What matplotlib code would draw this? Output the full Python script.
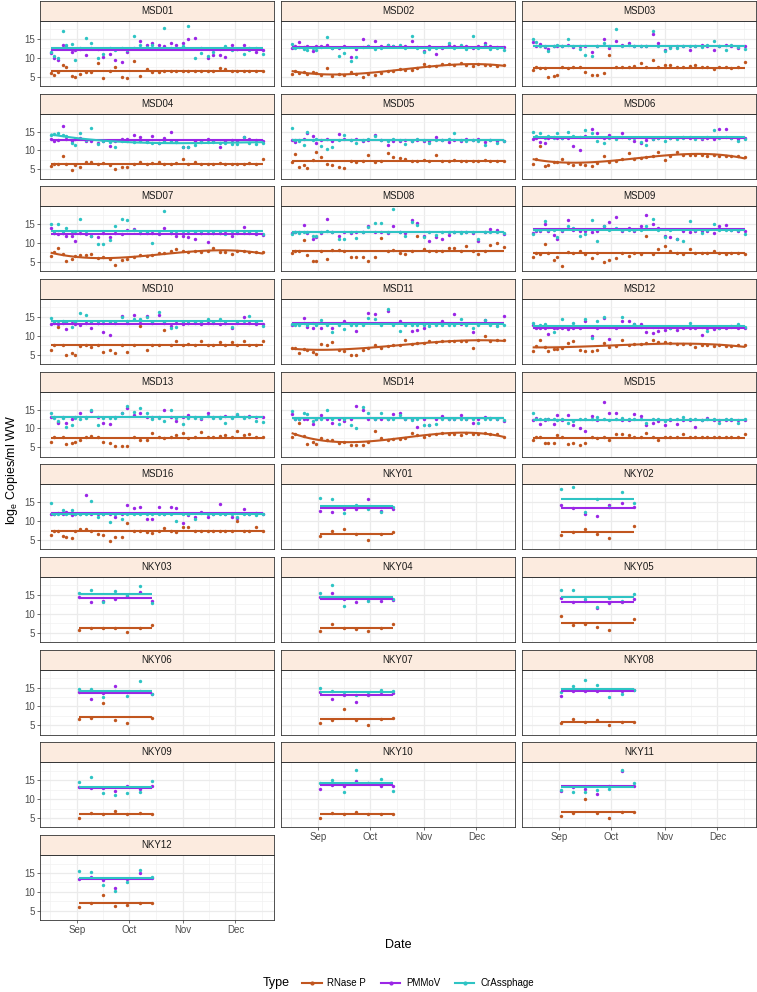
import numpy as np
import pandas as pd
import matplotlib
matplotlib.use("Agg")
import matplotlib.pyplot as plt
import matplotlib.dates as mdates
from matplotlib.lines import Line2D

plt.rcParams["font.family"] = ["Liberation Sans", "DejaVu Sans"]

# ========== 1. DATA (log_e copies / ml WW) ==========
START = pd.Timestamp("2020-09-01")
msd_days = [-15, -13, -11, -8, -6, -3, -1, 2, 5, 8, 12, 15, 19, 22, 26, 29, 33, 36, 40,
            43, 47, 50, 54, 57, 61, 64, 68, 71, 75, 78, 82, 85, 89, 92, 96, 99, 103, 107]
nky_days = [1, 8, 15, 22, 29, 36, 43]
na = np.nan

types = ["RNase P", "PMMoV", "CrAssphage"]
colors = ["#C1561F", "#9B26E6", "#2EC4C4"]

sites = ["MSD%02d" % i for i in range(1, 17)] + ["NKY%02d" % i for i in range(1, 13)]

rnase_p = {
    "MSD01": [6.0, 5.5, 6.2, 8.0, 7.5, 5.2, 4.9, 5.8, 6.3, 6.3, 8.5, 4.5, 6.5, 7.5, 4.8, 4.5, 9.2, 5.2, 7.0,
              6.3, 6.3, 6.5, 6.5, 6.6, 6.4, 6.5, 6.6, 6.5, 6.4, 6.6, 7.2, 7.0, 6.5, 6.4, 6.6, 6.5, 6.5, 6.6],
    "MSD02": [5.6, 6.4, 6.0, 6.2, 5.8, 6.2, 6.0, 5.5, 7.3, 5.2, 5.6, 5.5, 6.2, 5.8, 4.8, 5.7, 5.3, 6.0, 6.4,
              6.6, 7.0, 6.8, 6.7, 7.4, 8.3, 7.9, 7.8, 8.3, 8.3, 8.1, 8.7, 8.2, 7.8, 8.4, 8.2, 8.0, 7.9, 8.0],
    "MSD03": [6.8, 7.5, 7.4, 7.3, 4.8, 5.2, 5.5, 7.6, 7.3, 7.5, 7.6, 6.2, 5.5, 5.5, 5.9, 10.8, 7.5, 7.5, 7.6,
              7.7, 8.7, 7.5, 9.3, 7.5, 8.2, 8.0, 7.5, 7.6, 7.7, 8.2, 7.5, 7.6, 7.0, 7.5, 7.6, 7.4, 7.5, 9.0],
    "MSD04": [5.8, 6.5, 6.4, 8.5, 6.5, 4.8, 6.0, 5.5, 7.0, 7.0, 6.4, 6.6, 6.2, 5.0, 5.5, 5.5, 6.5, 7.0, 6.5,
              6.6, 7.0, 6.5, 6.4, 6.6, 7.8, 6.5, 6.8, 6.5, 6.5, 6.4, 6.6, 6.5, 6.5, 6.4, 6.5, 6.6, 6.5, 7.8],
    "MSD05": [6.8, 9.0, 5.5, 6.0, 5.3, 7.5, 9.7, 8.3, 6.5, 6.0, 5.5, 5.3, 7.3, 7.0, 7.2, 8.7, 7.0, 7.3, 9.3,
              8.2, 8.0, 7.8, 7.2, 7.3, 7.4, 7.2, 8.8, 7.3, 7.2, 7.4, 7.3, 7.1, 7.3, 7.2, 7.4, 7.3, 7.2, 7.3],
    "MSD06": [6.3, 7.7, 11.3, 5.8, 6.0, 6.8, 7.0, 7.8, 6.6, 6.0, 6.3, 6.0, 5.8, 6.7, 8.5, 6.8, 7.2, 7.6, 9.3,
              7.8, 8.0, 8.3, 8.6, 9.7, 7.5, 8.6, 9.7, 8.8, 8.7, 8.9, 8.8, 8.6, 8.7, 8.6, 8.5, 8.4, 8.6, 8.3],
    "MSD07": [6.5, 7.6, 8.7, 7.0, 5.2, 5.7, 6.5, 6.8, 6.8, 7.0, 6.0, 6.3, 5.8, 4.3, 5.5, 5.8, 6.3, 6.8, 6.6,
              6.9, 7.4, 7.3, 7.8, 8.3, 8.0, 7.6, 7.8, 7.5, 7.8, 8.8, 7.7, 7.6, 7.0, 8.0, 7.8, 7.6, 7.7, 7.7],
    "MSD08": [7.3, 8.0, 7.9, 10.8, 6.8, 5.3, 5.3, 8.0, 5.8, 8.1, 8.2, 8.0, 6.3, 6.3, 6.2, 5.3, 6.3, 11.3, 8.0,
              8.1, 7.3, 7.0, 8.0, 12.0, 8.5, 8.0, 7.8, 8.0, 8.8, 8.8, 8.0, 9.2, 8.0, 7.0, 8.0, 9.5, 10.0, 8.9],
    "MSD09": [6.2, 7.3, 7.2, 9.8, 7.3, 5.5, 6.3, 4.0, 7.5, 7.3, 8.0, 7.2, 6.0, 7.3, 5.0, 5.5, 6.0, 7.3, 6.5,
              7.3, 7.0, 11.8, 7.2, 8.3, 9.3, 8.0, 7.3, 7.2, 8.3, 7.3, 7.4, 7.3, 7.8, 7.3, 7.2, 7.3, 7.3, 7.2],
    "MSD10": [6.3, 7.6, 12.3, 7.6, 5.0, 5.5, 4.8, 7.2, 7.6, 7.0, 7.6, 5.8, 6.3, 5.3, 7.6, 5.8, 7.6, 12.5, 6.3,
              7.5, 7.6, 11.5, 7.6, 8.5, 7.6, 7.8, 7.6, 8.7, 7.6, 7.6, 8.3, 7.6, 8.3, 7.6, 8.5, 7.6, 7.6, 8.7],
    "MSD11": [6.8, 6.7, 5.5, 6.5, 6.2, 5.8, 5.2, 7.8, 7.5, 8.3, 6.3, 6.0, 4.8, 4.8, 6.3, 6.8, 7.5, 6.8, 7.3,
              7.5, 7.6, 8.8, 7.8, 8.0, 8.2, 8.7, 8.3, 8.5, 8.6, 8.7, 8.5, 8.6, 6.7, 8.8, 10.0, 8.7, 8.8, 8.8],
    "MSD12": [6.0, 7.2, 8.8, 7.0, 6.0, 6.5, 6.5, 6.8, 8.2, 8.7, 6.2, 6.0, 6.0, 6.2, 8.2, 7.0, 7.2, 8.8, 7.5,
              7.8, 7.8, 8.0, 8.8, 8.3, 8.3, 8.0, 7.8, 7.8, 7.7, 7.0, 7.6, 7.5, 7.4, 7.5, 7.3, 7.4, 7.5, 7.5],
    "MSD13": [6.3, 7.7, 11.8, 7.7, 5.8, 6.2, 6.5, 6.8, 7.7, 8.0, 7.7, 6.5, 6.0, 5.3, 5.3, 5.3, 7.7, 7.0, 6.8,
              8.7, 7.7, 7.5, 7.7, 8.3, 8.8, 7.5, 7.7, 9.0, 7.7, 7.8, 8.0, 8.3, 7.7, 9.2, 8.3, 8.5, 7.7, 7.8],
    "MSD14": [7.7, 8.6, 11.5, 8.0, 5.8, 6.5, 5.8, 7.5, 7.0, 6.8, 6.2, 6.4, 5.5, 5.5, 5.5, 6.5, 9.3, 7.5, 6.8,
              7.2, 7.3, 7.5, 8.7, 8.2, 7.7, 8.3, 8.5, 8.8, 8.6, 8.5, 8.3, 8.7, 8.5, 8.6, 8.7, 8.6, 8.5, 7.8],
    "MSD15": [6.8, 7.6, 7.6, 6.0, 6.0, 6.0, 8.3, 7.6, 5.8, 6.0, 5.5, 6.0, 7.6, 7.5, 7.6, 7.0, 8.5, 8.5, 8.2,
              7.8, 7.6, 8.8, 7.6, 6.8, 7.6, 7.6, 7.6, 8.5, 7.6, 7.6, 7.6, 7.6, 7.6, 7.6, 7.6, 7.6, 7.6, 8.5],
    "MSD16": [6.2, 7.4, 7.4, 6.0, 5.8, 5.6, 7.4, 7.8, 7.8, 7.4, 6.5, 6.3, 4.8, 5.8, 5.8, 9.5, 7.4, 7.5, 7.2,
              6.8, 7.4, 8.2, 7.4, 7.0, 8.5, 8.5, 7.4, 7.4, 7.4, 7.4, 7.4, 7.5, 7.4, 10.0, 7.4, 7.5, 8.3, 7.4],
    "NKY01": [6.0, 7.3, 8.0, 6.5, 5.0, 6.6, 7.0],
    "NKY02": [6.3, 7.0, 8.0, 6.5, 5.6, na, 8.6],
    "NKY03": [5.8, 6.3, 6.2, 6.3, 5.2, 6.2, 7.1],
    "NKY04": [5.5, 7.2, 6.3, 5.9, 5.3, 6.2, 7.2],
    "NKY05": [9.5, 6.9, 7.4, 6.6, 5.6, na, 8.6],
    "NKY06": [6.7, 6.9, 10.9, 6.5, 5.7, na, 6.8],
    "NKY07": [5.6, 6.5, 9.3, 6.5, 5.2, 6.6, 6.8],
    "NKY08": [5.6, 6.6, 5.9, 6.3, 5.2, 5.9, 5.9],
    "NKY09": [5.1, 6.4, 6.1, 6.8, 6.0, 6.2, 6.1],
    "NKY10": [5.1, 6.3, 6.0, 6.6, 6.0, 6.0, 6.0],
    "NKY11": [5.6, 6.4, 9.9, 6.4, 4.9, 6.6, 6.5],
    "NKY12": [5.9, 6.9, 9.2, 6.3, 6.4, 7.0, 6.9],
}

pmmov = {
    "MSD01": [11.3, 10.0, 9.3, 13.3, 12.8, 11.5, 12.0, 12.2, 10.8, 12.5, 12.3, 10.1, 11.0, 9.5, 9.0, 11.5, 12.5, 14.5, 13.3,
              14.0, 13.5, 13.0, 14.0, 13.5, 14.0, 15.0, 15.2, 12.6, 10.0, 10.8, 10.8, 10.3, 13.5, 12.2, 13.3, 12.5, 11.5, 12.0],
    "MSD02": [12.6, 13.0, 14.2, 12.8, 13.0, 11.7, 13.2, 13.0, 13.4, 12.6, 12.6, 13.0, 10.2, 12.4, 15.0, 13.2, 14.5, 13.0, 13.5,
              13.0, 13.2, 13.0, 14.5, 12.9, 11.7, 13.0, 11.0, 12.5, 13.5, 13.2, 13.0, 13.2, 12.5, 13.0, 14.0, 13.2, 12.8, 12.8],
    "MSD03": [14.3, 13.0, 13.6, 12.8, 12.2, 13.2, 13.0, 13.2, 13.5, 12.8, 13.0, 13.2, 11.5, 13.0, 15.0, 12.5, 14.5, 13.3, 14.0,
              13.2, 13.0, 13.2, 16.2, 14.0, 12.0, 12.8, 13.0, 13.2, 12.0, 13.0, 13.5, 13.2, 12.0, 13.1, 13.5, 13.0, 12.6, 13.0],
    "MSD04": [13.0, 12.5, 12.8, 16.5, 13.0, 12.6, 13.0, 13.3, 12.5, 12.5, 12.0, 12.4, 11.3, 12.5, 13.0, 13.0, 14.2, 13.5, 12.5,
              13.8, 12.0, 13.3, 14.8, 12.6, 11.0, 10.8, 12.5, 12.6, 13.0, 12.5, 11.0, 12.6, 12.8, 12.6, 13.5, 13.0, 12.8, 12.5],
    "MSD05": [12.8, 12.3, 12.8, 13.0, 14.5, 13.8, 12.0, 12.8, 13.0, 12.5, 14.3, 13.0, 12.8, 13.0, 12.6, 12.8, 14.0, 12.8, 11.5,
              12.5, 12.6, 12.8, 12.5, 12.8, 12.5, 12.6, 13.5, 12.8, 12.3, 12.8, 12.5, 12.9, 12.8, 13.0, 12.3, 12.8, 12.6, 12.5],
    "MSD06": [13.0, 13.2, 12.2, 12.0, 13.3, 13.5, 13.3, 13.2, 13.4, 11.2, 10.2, 13.8, 15.8, 14.5, 13.3, 14.0, 13.2, 14.5, 13.3,
              12.5, 12.0, 12.8, 13.0, 13.3, 13.5, 13.2, 13.3, 13.5, 13.2, 13.3, 13.0, 13.4, 13.0, 15.6, 15.6, 13.3, 13.0, 13.2],
    "MSD07": [14.0, 12.6, 12.5, 12.6, 12.0, 12.0, 10.5, 12.6, 12.4, 12.0, 11.5, 12.6, 11.5, 12.6, 12.5, 13.5, 13.8, 12.6, 12.7,
              12.6, 12.5, 14.0, 12.6, 12.0, 12.0, 11.5, 11.0, 12.6, 10.2, 12.6, 12.7, 12.6, 12.0, 12.6, 14.3, 12.6, 12.5, 12.2],
    "MSD08": [12.8, 12.9, 12.9, 14.8, 12.8, 11.0, 11.5, 12.8, 16.5, 12.9, 12.0, 12.9, 12.8, 13.0, 13.0, 14.5, 12.9, 12.9, 12.8,
              14.5, 12.9, 12.8, 16.0, 15.2, 11.8, 10.5, 11.5, 11.0, 12.2, 12.9, 12.9, 12.9, 12.8, 10.5, 12.9, 13.8, 13.5, 12.5],
    "MSD09": [12.8, 13.3, 13.2, 15.0, 13.3, 12.2, 11.2, 13.3, 16.2, 13.5, 13.3, 13.2, 13.0, 13.3, 14.5, 15.5, 17.0, 13.3, 14.0,
              13.3, 14.5, 17.5, 15.0, 14.0, 12.0, 11.5, 11.0, 13.3, 13.0, 13.3, 13.2, 13.3, 12.8, 14.5, 14.8, 13.5, 13.3, 13.2],
    "MSD10": [13.0, 13.3, 13.2, 13.3, 11.8, 13.3, 13.2, 12.8, 13.3, 12.0, 13.3, 11.0, 10.2, 13.3, 15.2, 13.3, 15.5, 13.3, 15.3,
              13.3, 15.5, 13.3, 12.5, 13.3, 13.2, 13.3, 13.3, 13.2, 13.3, 13.3, 13.2, 13.3, 12.0, 13.3, 15.0, 13.3, 13.2, 13.0],
    "MSD11": [12.8, 13.2, 13.2, 14.8, 12.2, 12.0, 13.2, 12.0, 13.2, 12.0, 13.2, 14.0, 13.2, 11.2, 13.2, 16.0, 15.8, 13.2, 16.5,
              13.2, 13.8, 13.2, 11.2, 11.5, 12.0, 13.2, 13.2, 13.8, 13.2, 15.8, 13.2, 13.2, 11.0, 13.2, 14.2, 13.2, 13.2, 15.3],
    "MSD12": [12.8, 12.0, 12.0, 12.0, 10.5, 12.0, 12.0, 12.0, 11.8, 12.0, 12.0, 14.0, 10.0, 12.0, 14.8, 9.2, 12.0, 13.8, 14.0,
              13.0, 13.0, 11.0, 10.7, 11.3, 11.5, 12.0, 11.6, 12.0, 12.0, 12.0, 10.3, 12.0, 11.9, 12.0, 12.0, 12.5, 12.0, 12.0],
    "MSD13": [13.0, 13.0, 11.5, 13.0, 11.5, 12.5, 13.0, 14.0, 13.0, 14.7, 13.0, 11.5, 11.2, 13.0, 14.0, 15.5, 13.5, 14.0, 13.0,
              13.0, 13.0, 14.8, 13.0, 12.0, 13.0, 13.5, 13.0, 12.5, 14.0, 13.0, 13.0, 13.3, 13.0, 13.5, 13.0, 13.2, 13.0, 13.0],
    "MSD14": [13.8, 12.6, 12.6, 12.6, 12.6, 11.3, 12.6, 13.5, 12.6, 11.5, 12.6, 12.0, 12.6, 16.0, 14.8, 12.6, 12.6, 12.5, 12.6,
              13.8, 14.0, 12.6, 12.6, 10.5, 12.6, 10.8, 12.6, 13.3, 12.5, 12.6, 13.5, 12.6, 11.5, 12.6, 13.0, 12.8, 12.6, 12.0],
    "MSD15": [12.2, 12.8, 11.3, 12.2, 12.5, 11.3, 13.5, 12.2, 13.5, 11.0, 10.0, 9.2, 13.3, 12.2, 17.0, 14.2, 14.0, 12.2, 12.2,
              13.8, 13.3, 11.0, 11.5, 12.0, 10.8, 12.2, 11.3, 12.2, 12.2, 10.5, 12.2, 12.8, 12.2, 12.2, 12.2, 12.2, 12.2, 12.2],
    "MSD16": [12.0, 12.0, 12.2, 12.0, 12.3, 11.5, 12.0, 12.0, 16.8, 12.0, 12.0, 12.0, 12.0, 11.0, 12.0, 14.2, 13.5, 13.8, 10.5,
              10.5, 13.8, 12.0, 13.8, 13.5, 9.5, 11.5, 11.0, 12.3, 11.0, 12.0, 14.5, 12.0, 11.0, 10.8, 13.3, 12.0, 12.2, 12.0],
    "NKY01": [12.8, 12.5, 13.2, 13.3, 15.8, 12.8, 13.2],
    "NKY02": [14.3, 13.5, 12.0, 11.3, 14.3, 14.8, 13.8],
    "NKY03": [14.5, 13.0, 13.4, 13.9, 14.6, 15.7, 13.3],
    "NKY04": [14.5, 15.4, 13.8, 13.1, 14.0, 13.3, 13.7],
    "NKY05": [14.2, 13.1, 13.4, 11.6, 12.8, 13.2, 13.9],
    "NKY06": [13.8, 11.9, 13.6, 15.5, 13.7, 14.0, 13.2],
    "NKY07": [13.8, 12.1, 13.0, 11.3, 13.0, 13.9, 13.6],
    "NKY08": [12.8, 14.2, 14.0, 14.0, 14.3, 14.2, 14.4],
    "NKY09": [13.1, 13.0, 12.9, 12.1, 13.5, 12.6, 13.5],
    "NKY10": [12.6, 13.8, 13.6, 14.8, 14.2, 13.6, 13.6],
    "NKY11": [12.1, 13.2, 12.7, 11.4, 13.5, 17.4, 13.5],
    "NKY12": [13.3, 13.8, 13.2, 10.9, 13.4, 15.0, 13.6],
}

crassphage = {
    "MSD01": [11.5, 10.5, 9.8, 17.0, 13.4, 13.6, 9.4, 12.5, 15.3, 14.0, 10.0, 11.0, 12.5, 12.0, 12.5, 12.0, 15.7, 13.5, 12.8,
              13.5, 12.5, 17.8, 12.5, 12.6, 13.0, 18.5, 10.0, 11.3, 10.5, 11.5, 12.2, 13.0, 12.0, 12.3, 11.0, 12.0, 12.5, 11.0],
    "MSD02": [13.6, 12.5, 12.8, 12.2, 12.0, 12.6, 12.0, 12.8, 15.4, 12.6, 10.5, 11.2, 9.2, 10.3, 12.8, 13.0, 12.2, 12.5, 13.5,
              13.0, 13.3, 12.5, 15.8, 12.6, 11.5, 12.2, 12.6, 12.8, 14.0, 12.6, 13.5, 12.4, 15.8, 12.6, 13.5, 12.4, 12.6, 12.0],
    "MSD03": [15.0, 14.3, 13.2, 13.2, 11.8, 13.0, 13.4, 13.2, 15.0, 13.1, 12.2, 10.8, 10.5, 13.2, 14.0, 13.0, 17.5, 13.2, 13.5,
              13.2, 13.0, 13.2, 17.0, 13.2, 11.8, 12.6, 12.5, 13.2, 13.1, 13.0, 12.8, 13.3, 14.5, 13.1, 12.0, 13.3, 12.8, 12.2],
    "MSD04": [14.0, 14.3, 14.5, 14.0, 13.8, 12.0, 11.5, 14.5, 12.8, 16.0, 11.8, 12.4, 12.2, 10.8, 12.5, 12.5, 12.2, 12.4, 12.2,
              12.0, 12.0, 12.5, 12.5, 12.2, 10.8, 11.0, 11.5, 12.3, 12.3, 12.3, 12.0, 12.0, 11.8, 11.8, 13.5, 12.0, 11.8, 12.0],
    "MSD05": [16.0, 12.8, 12.5, 11.5, 14.8, 12.8, 13.0, 11.3, 10.5, 11.0, 12.8, 14.0, 12.8, 12.0, 12.8, 13.0, 13.8, 12.8, 12.5,
              13.0, 12.8, 11.8, 12.5, 13.0, 12.8, 12.0, 12.7, 12.8, 12.9, 14.7, 12.8, 12.5, 12.8, 12.6, 11.5, 12.8, 12.0, 12.5],
    "MSD06": [15.0, 13.8, 14.5, 13.4, 13.8, 13.4, 14.5, 13.2, 15.0, 13.8, 13.5, 15.5, 14.5, 12.5, 12.0, 13.4, 13.0, 13.5, 13.2,
              13.4, 12.2, 11.5, 13.0, 13.2, 12.5, 13.4, 13.0, 13.2, 13.5, 13.0, 13.4, 13.6, 15.5, 13.2, 13.5, 13.4, 12.5, 13.0],
    "MSD07": [15.0, 12.8, 15.0, 12.8, 14.0, 12.8, 12.6, 16.5, 12.8, 12.0, 9.8, 9.8, 10.8, 14.5, 16.5, 16.0, 13.5, 12.8, 12.9,
              10.0, 12.8, 18.5, 12.8, 12.8, 12.6, 12.8, 12.9, 12.8, 12.7, 12.8, 12.8, 12.5, 12.8, 12.9, 12.7, 13.0, 12.8, 12.5],
    "MSD08": [12.5, 12.9, 12.7, 12.9, 13.0, 12.0, 11.8, 12.9, 13.2, 12.9, 11.0, 11.2, 12.9, 11.3, 12.9, 14.2, 15.3, 15.3, 12.9,
              19.0, 12.9, 11.8, 15.5, 14.8, 11.6, 12.9, 12.2, 12.9, 13.0, 12.9, 12.8, 12.9, 12.9, 11.2, 12.9, 12.9, 13.0, 12.6],
    "MSD09": [12.5, 13.5, 13.6, 15.8, 13.4, 13.5, 11.5, 13.5, 14.5, 14.0, 12.0, 12.5, 16.0, 10.5, 14.5, 13.5, 14.0, 13.5, 13.5,
              13.4, 13.5, 14.5, 16.5, 13.5, 11.5, 13.6, 11.0, 10.5, 15.8, 13.5, 12.8, 13.5, 15.0, 13.4, 13.5, 13.6, 13.5, 12.5],
    "MSD10": [14.8, 13.6, 13.5, 14.0, 13.6, 12.3, 13.6, 16.0, 15.5, 13.6, 13.3, 13.5, 13.6, 13.6, 15.0, 14.0, 14.5, 14.5, 15.0,
              13.6, 16.3, 13.6, 12.0, 12.2, 13.6, 13.5, 13.6, 13.6, 14.5, 13.6, 14.5, 13.5, 12.3, 13.6, 14.0, 15.2, 13.6, 12.5],
    "MSD11": [13.0, 12.9, 12.9, 13.3, 12.9, 13.5, 12.8, 14.3, 12.9, 11.0, 12.9, 11.8, 12.9, 12.9, 12.9, 14.8, 14.5, 12.9, 17.0,
              12.9, 11.2, 12.9, 12.9, 12.9, 12.9, 12.5, 12.9, 12.9, 12.9, 12.9, 14.5, 12.9, 12.0, 12.9, 14.3, 12.9, 12.5, 12.9],
    "MSD12": [13.5, 12.3, 12.8, 13.2, 12.3, 11.0, 12.3, 14.5, 12.3, 13.5, 12.3, 14.5, 9.5, 13.8, 15.0, 12.3, 12.3, 15.0, 12.3,
              13.0, 12.3, 12.2, 12.3, 12.3, 12.3, 12.0, 12.3, 12.4, 13.3, 12.3, 12.3, 11.3, 12.3, 12.0, 12.3, 12.2, 13.0, 12.3],
    "MSD13": [14.0, 12.8, 12.0, 12.8, 10.5, 11.0, 12.8, 12.5, 12.8, 15.0, 11.0, 12.8, 12.8, 12.8, 14.2, 16.0, 14.3, 15.5, 14.0,
              12.5, 12.8, 12.0, 14.8, 12.8, 11.3, 12.8, 12.8, 12.8, 13.3, 12.8, 12.8, 11.5, 12.8, 13.8, 12.8, 13.0, 12.0, 11.8],
    "MSD14": [14.5, 12.6, 12.6, 14.0, 13.7, 12.0, 12.6, 12.6, 15.0, 12.6, 11.3, 12.5, 11.0, 10.0, 15.8, 14.2, 12.6, 14.2, 12.6,
              12.6, 13.5, 12.6, 12.2, 12.6, 11.0, 11.0, 11.3, 12.6, 12.5, 12.6, 12.6, 12.5, 12.6, 11.5, 12.6, 12.6, 12.6, 12.3],
    "MSD15": [14.0, 12.4, 12.4, 12.4, 12.5, 12.4, 12.3, 12.4, 11.5, 12.0, 12.4, 12.4, 12.4, 13.0, 12.4, 12.3, 12.4, 12.8, 12.4,
              12.4, 12.4, 11.5, 12.4, 12.4, 12.0, 12.4, 12.4, 13.0, 12.4, 12.4, 12.2, 12.4, 12.4, 11.5, 12.4, 12.4, 11.5, 12.4],
    "MSD16": [14.7, 12.0, 12.0, 13.0, 12.0, 13.0, 12.0, 12.0, 12.0, 15.2, 11.2, 12.0, 9.8, 12.0, 10.5, 12.0, 12.0, 12.0, 12.0,
              12.0, 12.0, 12.0, 12.0, 10.0, 12.0, 12.0, 10.5, 12.2, 12.0, 12.0, 12.0, 12.0, 12.0, 11.0, 12.0, 12.0, 11.5, 12.0],
    "NKY01": [16.0, 15.8, 12.2, 14.3, 13.3, 12.5, 13.7],
    "NKY02": [18.6, 19.0, 12.3, 15.8, 13.8, 17.6, 14.8],
    "NKY03": [15.4, 16.3, 13.2, 16.1, 15.0, 17.4, 12.9],
    "NKY04": [15.4, 17.7, 12.0, 14.3, 13.3, 14.3, 13.9],
    "NKY05": [16.3, 16.3, 13.9, 11.8, 14.2, 13.5, 15.3],
    "NKY06": [14.7, 14.7, 12.6, 14.2, 12.8, 16.8, 13.4],
    "NKY07": [14.8, 14.0, 13.2, 13.0, 13.4, 14.4, 14.0],
    "NKY08": [13.8, 15.5, 16.9, 15.8, 12.4, 13.4, 14.4],
    "NKY09": [14.6, 15.8, 11.6, 11.2, 11.6, 12.0, 14.8],
    "NKY10": [14.4, 15.0, 11.8, 17.8, 14.3, 15.4, 12.1],
    "NKY11": [12.3, 12.0, 11.8, 12.5, 12.6, 17.7, 14.2],
    "NKY12": [15.5, 15.3, 11.9, 10.2, 12.5, 15.8, 14.0],
}

series = [rnase_p, pmmov, crassphage]

# smooths that bend (the rest shrink to a flat line at the mean)
curved = {("MSD02", 0), ("MSD04", 2), ("MSD06", 0), ("MSD07", 0),
          ("MSD11", 0), ("MSD12", 0), ("MSD14", 0)}

# ========== 2. LAYOUT ==========
W, H = 757, 992
fig = plt.figure(figsize=(W / 100, H / 100), dpi=100)
col_x = [40, 281, 522]
panel_w = 234
pitch = 92.67
strip_h = 20
panel_h = 65

x_lo = START + pd.Timedelta(days=-15 - 6.1)
x_hi = START + pd.Timedelta(days=107 + 6.1)
months = pd.date_range("2020-08-01", "2021-01-01", freq="MS")
mids = [months[i] + (months[i + 1] - months[i]) / 2 for i in range(len(months) - 1)]

all_vals = np.concatenate([np.array(s[k], float) for s in series for k in sites])
lo, hi = np.nanmin(all_vals), np.nanmax(all_vals)
pad = 0.05 * (hi - lo)

grey20, grey30 = "#333333", "#4D4D4D"

for k, site in enumerate(sites):
    r, c = divmod(k, 3)
    top = 1 + r * pitch
    ax = fig.add_axes([col_x[c] / W, 1 - (top + strip_h + panel_h) / H, panel_w / W, panel_h / H])
    sax = fig.add_axes([col_x[c] / W, 1 - (top + strip_h) / H, panel_w / W, strip_h / H])

    days = np.array(msd_days if site.startswith("MSD") else nky_days, float)
    dates = START + pd.to_timedelta(days, unit="D")

    # points first, then the smooths (ggplot layer order)
    for j, s in enumerate(series):
        y = np.array(s[site], float)
        ax.scatter(dates, y, s=6, color=colors[j], lw=0, zorder=3)
    for j, s in enumerate(series):
        y = np.array(s[site], float)
        ok = ~np.isnan(y)
        d0, d1 = days[ok].min(), days[ok].max()
        if (site, j) in curved:
            coef = np.polyfit(days[ok], y[ok], 3)
            grid = np.linspace(d0, d1, 80)
            yy = np.polyval(coef, grid)
        else:
            grid = np.array([d0, d1])
            yy = np.full(2, y[ok].mean())
        ax.plot(START + pd.to_timedelta(grid, unit="D"), yy, color=colors[j], lw=1.5,
                solid_capstyle="butt", zorder=4)

    ax.set_xlim(x_lo, x_hi)
    ax.set_ylim(lo - pad, hi + pad)
    ax.set_xticks(months[1:5])
    ax.set_xticks(mids, minor=True)
    ax.set_yticks([5, 10, 15])
    ax.set_yticks([2.5, 7.5, 12.5, 17.5], minor=True)
    ax.xaxis.set_major_formatter(mdates.DateFormatter("%b"))
    ax.grid(which="major", color="#EBEBEB", lw=0.9)
    ax.grid(which="minor", color="#F2F2F2", lw=0.5)
    ax.set_axisbelow(True)
    for sp in ax.spines.values():
        sp.set_color(grey20)
        sp.set_linewidth(0.6)
    ax.tick_params(which="minor", length=0)
    ax.tick_params(which="major", length=2.2, width=0.5, color=grey20,
                   labelsize=7, labelcolor=grey30, pad=1.5)
    if c != 0:
        ax.tick_params(axis="y", left=False, labelleft=False)
    if k + 3 < len(sites):
        ax.tick_params(axis="x", bottom=False, labelbottom=False)

    sax.set_facecolor("#FCEBDF")
    sax.set_xticks([])
    sax.set_yticks([])
    for sp in sax.spines.values():
        sp.set_color(grey20)
        sp.set_linewidth(0.6)
    sax.text(0.5, 0.5, site, ha="center", va="center", fontsize=7, color="#1A1A1A",
             transform=sax.transAxes)

# ========== 3. AXIS TITLES + LEGEND ==========
fig.text(12 / W, 1 - 470 / H, r"log$_\mathregular{e}$ Copies/ml WW", rotation=90,
         ha="center", va="center", fontsize=9)
fig.text(398 / W, 1 - 945 / H, "Date", ha="center", va="center", fontsize=9)

handles = [Line2D([0], [0], color=col, lw=1.5, marker="o", markersize=2) for col in colors]
fig.text(276 / W, 1 - 983 / H, "Type", ha="center", va="center", fontsize=9)
fig.legend(handles, types, loc="center", bbox_to_anchor=(418 / W, 1 - 983 / H), ncol=3,
           frameon=False, fontsize=7, handlelength=2.0, handletextpad=0.6,
           columnspacing=1.5, borderpad=0)

fig.savefig("out.png", dpi=100)
